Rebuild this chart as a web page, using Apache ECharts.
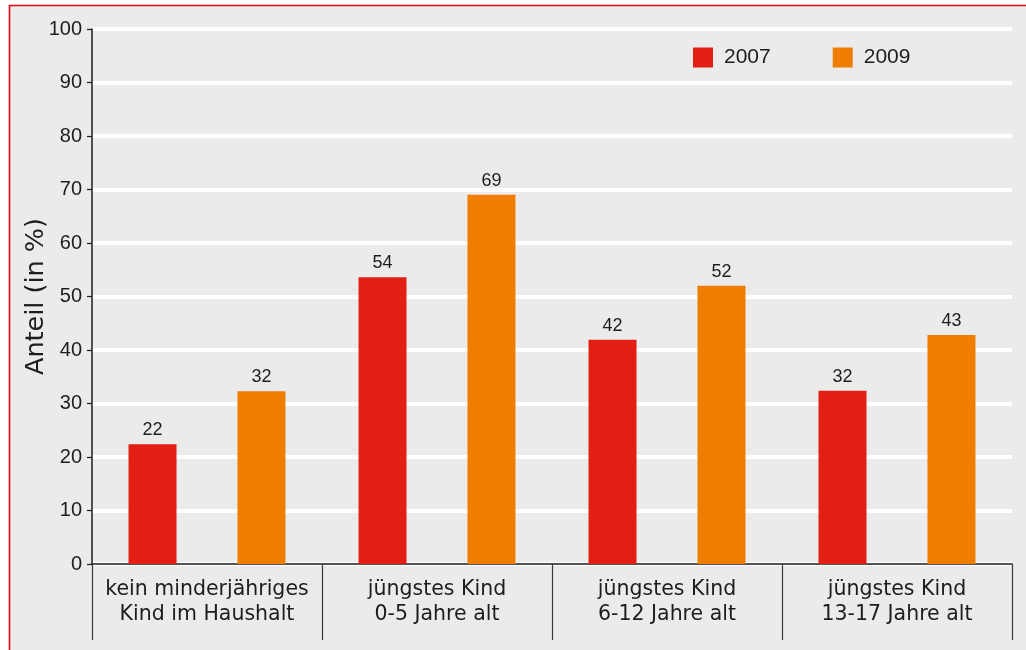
<!DOCTYPE html>
<html>
<head>
<meta charset="utf-8">
<script src="https://cdn.jsdelivr.net/npm/echarts@6/dist/echarts.min.js"></script>
<style>
  html, body { margin: 0; padding: 0; background: #ffffff; overflow: hidden; width: 1026px; height: 650px; }
  #frame { position: absolute; left: 9px; top: 5px; width: 1100px; height: 700px; background: #ebebeb; }
  #chart { position: absolute; left: 0; top: 0; width: 1026px; height: 650px; }
</style>
</head>
<body>
<div id="frame"></div>
<div id="chart"></div>
<script>
const categories = [
  'kein minderjähriges\nKind im Haushalt',
  'jüngstes Kind\n0-5 Jahre alt',
  'jüngstes Kind\n6-12 Jahre alt',
  'jüngstes Kind\n13-17 Jahre alt'
];
const seriesNames = ['2007', '2009'];
const values2007 = [22.4, 53.6, 41.9, 32.4];
const values2009 = [32.3, 69.0, 52.0, 42.8];
const yTicks = [0, 10, 20, 30, 40, 50, 60, 70, 80, 90, 100];
const yName = 'Anteil (in %)';

const textColor = '#1d1d1b';
const chart = echarts.init(document.getElementById('chart'), null, { renderer: 'canvas' });

function barSeries(name, data, color) {
  return {
    name: name,
    type: 'bar',
    data: data,
    barWidth: 48,
    barGap: '127%',
    itemStyle: { color: color },
    label: {
      show: true,
      position: 'top',
      distance: 5,
      color: textColor,
      fontFamily: 'Liberation Sans',
      fontSize: 18,
      formatter: p => String(Math.round(p.value))
    }
  };
}

chart.setOption({
  backgroundColor: 'transparent',
  animation: false,
  textStyle: { fontFamily: 'Liberation Sans' },
  graphic: [{
    type: 'polyline',
    silent: true,
    shape: { points: [[9.5, 660], [9.5, 5.5], [1040, 5.5]] },
    style: { stroke: '#e30613', lineWidth: 1.6, fill: null }
  }],
  legend: {
    data: seriesNames,
    left: 693,
    top: 47,
    padding: 0,
    itemWidth: 20,
    itemHeight: 20,
    itemGap: 62,
    icon: 'rect',
    textStyle: { fontSize: 21, color: textColor, fontFamily: 'Liberation Sans', padding: [0, 0, 0, 6] }
  },
  grid: { left: 92, right: 14, top: 29, bottom: 86, containLabel: false },
  xAxis: {
    type: 'category',
    data: categories,
    boundaryGap: true,
    axisLine: { show: true, lineStyle: { color: '#1d1d1b', width: 1.5 } },
    axisTick: { show: true, interval: 0, length: 76, lineStyle: { color: '#3a3a3a', width: 1.2 } },
    axisLabel: {
      interval: 0,
      margin: 13,
      color: textColor,
      fontFamily: 'DejaVu Sans',
      fontSize: 20.5,
      lineHeight: 25,
      align: 'center'
    },
    splitLine: { show: false }
  },
  yAxis: {
    type: 'value',
    min: yTicks[0],
    max: yTicks[yTicks.length - 1],
    interval: 10,
    name: yName,
    nameLocation: 'middle',
    nameGap: 43,
    nameMoveOverlap: false,
    nameTextStyle: { fontFamily: 'DejaVu Sans', fontSize: 25.5, color: textColor },
    axisLine: { show: true, lineStyle: { color: '#1d1d1b', width: 1.5 } },
    axisTick: { show: true, length: 5, lineStyle: { color: '#1d1d1b', width: 1.2 } },
    axisLabel: { margin: 10, color: textColor, fontFamily: 'Liberation Sans', fontSize: 20 },
    splitLine: { show: true, lineStyle: { color: '#ffffff', width: 4 } }
  },
  series: [
    barSeries(seriesNames[0], values2007, '#e31e13'),
    barSeries(seriesNames[1], values2009, '#ef7d00')
  ]
});
</script>
</body>
</html>
